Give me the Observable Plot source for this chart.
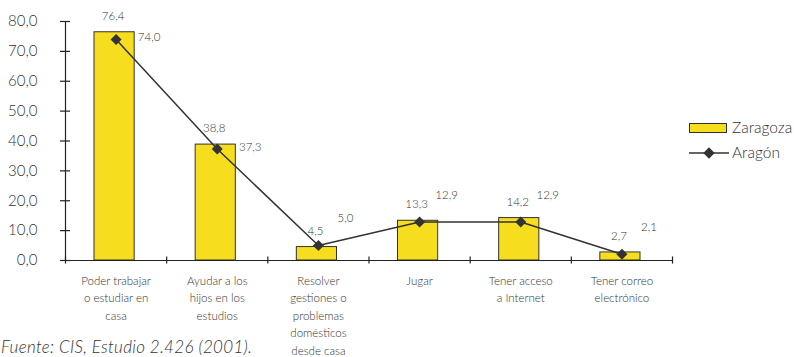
<!DOCTYPE html>
<html><head><meta charset="utf-8">
<script src="https://cdn.jsdelivr.net/npm/d3@7"></script>
<script src="https://cdn.jsdelivr.net/npm/@observablehq/plot@0.6"></script>
<style>
body{margin:0;background:#fff;}
#wrap{position:relative;width:794px;height:357px;overflow:hidden;font-family:Lato,"Open Sans",sans-serif;font-weight:300;color:#333;}
#chart svg{display:block;}
#chart svg text{font-weight:300;}
.leg{position:absolute;font-size:15.5px;line-height:1;white-space:nowrap;}
#caption{position:absolute;left:1px;top:338px;font-size:17px;letter-spacing:0.3px;font-style:italic;line-height:1.05;white-space:nowrap;color:#333;}
</style></head><body>
<div id="wrap">
<div id="chart"></div>
<div class="leg" style="left:689px;top:123px;width:38px;height:10px;box-sizing:border-box;background:#F6DD1E;border:1px solid #333;"></div>
<div class="leg" id="lz" style="left:732px;top:120px;">Zaragoza</div>
<svg class="leg" style="left:689px;top:147px;" width="40" height="12"><line x1="0" x2="40" y1="6" y2="6" stroke="#333" stroke-width="1.5"/><rect x="16" y="2" width="8" height="8" fill="#333" transform="rotate(45 20 6)"/></svg>
<div class="leg" id="la" style="left:732px;top:145px;">Aragón</div>
<div id="caption">Fuente: CIS, Estudio 2.426 (2001).</div>
</div>
<script>
const categories = [
  "Poder trabajar\no estudiar en\ncasa",
  "Ayudar a los\nhijos en los\nestudios",
  "Resolver\ngestiones o\nproblemas\ndomésticos\ndesde casa",
  "Jugar",
  "Tener acceso\na Internet",
  "Tener correo\nelectrónico"
];
const zaragoza = [76.4, 38.8, 4.5, 13.3, 14.2, 2.7];
const aragon = [74.0, 37.3, 5.0, 12.9, 12.9, 2.1];
const yTicks = [0, 10, 20, 30, 40, 50, 60, 70, 80];
const seriesNames = ["Zaragoza", "Aragón"];

const fmt = d => d.toFixed(1).replace(".", ",");
const idx = d3.range(categories.length);
const bounds = d3.range(categories.length + 1);
const textColor = "#333";

const chart = Plot.plot({
  width: 794,
  height: 357,
  marginLeft: 65,
  marginRight: 122,
  marginTop: 21,
  marginBottom: 97,
  style: {fontFamily: "Lato, 'Open Sans', sans-serif", color: textColor, background: "#fff"},
  x: {domain: [0, categories.length], axis: null},
  y: {domain: [0, 80], axis: null},
  marks: [
    Plot.rectY(idx, {x1: i => i, x2: i => i + 1, y1: 0, y2: i => zaragoza[i], fill: "#F6DD1E", stroke: "#333", strokeWidth: 1, insetLeft: 29, insetRight: 32}),
    Plot.ruleX([0], {y1: 0, y2: 80, stroke: "#222", strokeWidth: 1.2}),
    Plot.ruleY(yTicks, {y: d => d, x1: -0.05, x2: 0.05, stroke: "#222", strokeWidth: 1.2}),
    Plot.ruleY([0], {x1: 0, x2: categories.length, stroke: "#222", strokeWidth: 1.2}),
    Plot.ruleX(bounds, {x: d => d, y1: -1.2, y2: 1.2, stroke: "#222", strokeWidth: 1.2}),
    Plot.text(yTicks, {x: 0, y: d => d, text: fmt, textAnchor: "end", dx: -28, fontSize: 15, fill: textColor}),
    Plot.text(idx, {x: i => i + 0.5, y: 0, text: i => categories[i], lineAnchor: "top", dy: 12, fontSize: 11.5, lineHeight: 1.52, fill: textColor}),
    Plot.line(idx, {x: i => i + 0.5, y: i => aragon[i], stroke: "#333", strokeWidth: 1.5}),
    Plot.dot(idx, {x: i => i + 0.5, y: i => aragon[i], symbol: "square", r: 4.4, rotate: 45, fill: "#333", stroke: "none"}),
    Plot.text(idx, {x: i => i + 0.5, y: i => zaragoza[i], text: i => fmt(zaragoza[i]), dx: -3, dy: -16, fontSize: 11.5, fill: textColor}),
    Plot.text(idx, {x: i => i + 0.5, y: i => aragon[i], text: i => fmt(aragon[i]), fontSize: 11.5, fill: textColor,
      filter: i => aragon[i] > 20, dx: 33, dy: -2}),
    Plot.text(idx, {x: i => i + 0.5, y: i => aragon[i], text: i => fmt(aragon[i]), fontSize: 11.5, fill: textColor,
      filter: i => aragon[i] <= 20, dx: 27, dy: -27})
  ]
});
document.getElementById("chart").appendChild(chart);
document.getElementById("lz").textContent = seriesNames[0];
document.getElementById("la").textContent = seriesNames[1];
</script>
</body></html>
